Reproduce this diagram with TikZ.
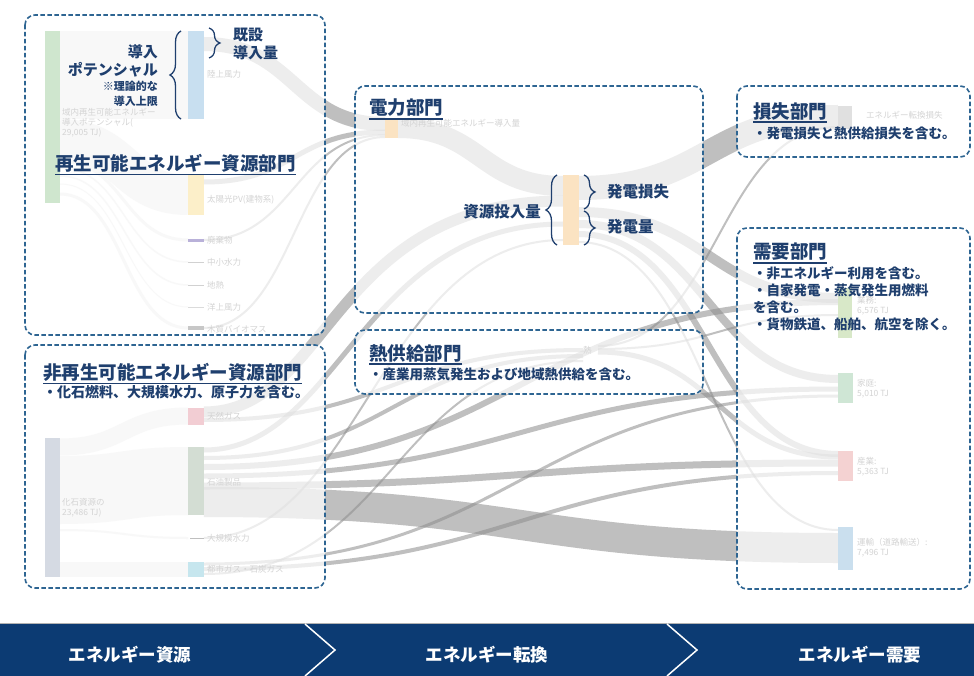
\documentclass[tikz,border=0pt]{standalone}
\usepackage{fontspec}
\setmainfont{Noto Sans CJK JP}
\usetikzlibrary{decorations.pathreplacing}
\definecolor{navy}{HTML}{1F3F6E}
\definecolor{dashc}{HTML}{2E6592}
\definecolor{bandc}{HTML}{0C3B73}
\definecolor{cBlue}{HTML}{C8DFF0}
\definecolor{cGreen}{HTML}{CFE6CE}
\definecolor{cYellow}{HTML}{FCEFC9}
\definecolor{cPurple}{HTML}{B9B1D9}
\definecolor{cPink}{HTML}{F2CDD3}
\definecolor{cGG}{HTML}{D3DDD3}
\definecolor{cFossil}{HTML}{D5DAE3}
\definecolor{cCyan}{HTML}{C6E6EE}
\definecolor{cOrange}{HTML}{FBE3C2}
\definecolor{cHome}{HTML}{CFE6D5}
\definecolor{cInd}{HTML}{F4D2D2}
\definecolor{cTrans}{HTML}{CADFEE}
\definecolor{cBiz}{HTML}{D8E8C8}
\newcommand\sflow[5]{\draw[flowline,line width=#5pt] (#1,#2) .. controls ({(#1+#3)/2},#2) and ({(#1+#3)/2},#4) .. (#3,#4);}
\newcommand\fflow[5]{\draw[faintflow,line width=#5pt] (#1,#2) .. controls ({(#1+#3)/2},#2) and ({(#1+#3)/2},#4) .. (#3,#4);}
\begin{document}
\begin{tikzpicture}[x=1pt,y=-1pt,
  flowline/.style={draw=black!45, draw opacity=0.55},
  faintflow/.style={draw=black!30, draw opacity=0.3},
  boxfill/.style={fill=white, fill opacity=0.72, rounded corners=10pt},
  dbox/.style={draw=dashc, line width=1.6pt, dash pattern=on 4.5pt off 2.5pt, rounded corners=10pt},
  title/.style={font=\fontsize{18.5}{20}\selectfont\bfseries, text=navy, anchor=west, inner sep=0pt},
  sub/.style={font=\fontsize{13.5}{15}\selectfont\bfseries, text=navy, anchor=west, inner sep=0pt},
  mid/.style={font=\fontsize{15}{17}\selectfont\bfseries, text=navy, inner sep=0pt},
  small/.style={font=\fontsize{11}{12}\selectfont\bfseries, text=navy, inner sep=0pt, anchor=east},
  flabel/.style={font=\fontsize{8.5}{10}\selectfont, text=black!17, anchor=west, inner sep=0pt},
  brc/.style={draw=navy, line width=1.3pt, decorate, decoration={brace, amplitude=11pt}},
  bandtext/.style={font=\fontsize{17.5}{19}\selectfont\bfseries, text=white, inner sep=0pt}
]
\useasboundingbox (0,0) rectangle (974,676);
\fill[white] (0,0) rectangle (974,676);

% ---------- faint flows col1 -> col2 ----------
\fflow{60}{75}{188}{75}{88}
\fflow{60}{139}{188}{195}{40}
\fflow{60}{161}{188}{240}{3}
\fflow{60}{168}{188}{262}{1.5}
\fflow{60}{176}{188}{285}{1.5}
\fflow{60}{184}{188}{307}{1}
\fflow{60}{194}{188}{328}{3}
\fflow{60}{447}{188}{416}{17}
\fflow{60}{490}{188}{481}{68}
\fflow{60}{530}{188}{538}{2}
\fflow{60}{569}{188}{569}{15}

% ---------- main flows ----------
\sflow{204}{44}{385}{124}{14}
\sflow{204}{182}{385}{132}{5}
\sflow{204}{240}{385}{135}{2}
\sflow{204}{328}{385}{137}{2}
\sflow{398}{128}{563}{186}{20}
\draw[flowline,line width=11pt] (204,412) .. controls (330,412) and (330,201) .. (563,201);
\sflow{204}{420}{583}{350}{4}
\draw[flowline,line width=5pt] (204,450) .. controls (340,450) and (360,224) .. (563,224);
\sflow{204}{458}{583}{356}{4}
\sflow{204}{467}{838}{302}{6}
\sflow{204}{476}{838}{389}{5}
\sflow{204}{486}{838}{463}{7}
\sflow{204}{502}{838}{548}{30}
\draw[flowline,line width=2pt] (204,538) .. controls (360,538) and (380,240) .. (563,240);
\sflow{204}{564}{838}{396}{3}
\sflow{204}{569}{838}{473}{4}
\sflow{204}{574}{583}{361}{2}
\sflow{598}{352}{838}{457}{5}
\sflow{598}{346}{838}{127}{2}
\sflow{598}{349}{838}{315}{2}
\sflow{578}{188}{838}{117}{24}
\sflow{578}{212}{838}{298}{10}
\sflow{578}{224}{838}{379}{8}
\sflow{578}{234}{838}{454}{6}
\sflow{578}{242}{838}{530}{2}

% ---------- white veils of the boxes ----------
\fill[boxfill] (25,15) rectangle (325,335);
\fill[boxfill] (25,345) rectangle (325,588);
\fill[boxfill] (355,86) rectangle (703,313);
\fill[boxfill] (355,330) rectangle (703,394);
\fill[boxfill] (737,86) rectangle (970,157);
\fill[boxfill] (737,228) rectangle (970,589);

% ---------- bars ----------
\fill[cGreen] (45,31) rectangle (60,203);
\fill[cBlue] (188,31) rectangle (204,119);
\fill[cYellow] (188,175) rectangle (204,215);
\fill[cPurple] (188,239) rectangle (204,242);
\draw[black!18, line width=0.8pt] (188,262) -- (204,262);
\draw[black!18, line width=0.8pt] (188,285) -- (204,285);
\draw[black!14, line width=0.6pt] (188,307) -- (204,307);
\fill[black!22] (188,326) rectangle (204,330);
\fill[cFossil] (45,438) rectangle (60,577);
\fill[cPink] (188,408) rectangle (204,425);
\fill[cGG] (188,447) rectangle (204,515);
\draw[black!25, line width=1pt] (190,538) -- (204,538);
\fill[cCyan] (188,562) rectangle (204,577);
\fill[cOrange] (385,118) rectangle (398,138);
\fill[cOrange] (563,175) rectangle (579,245);
\fill[black!12] (838,106) rectangle (852,129);
\fill[cBiz] (838,288) rectangle (852,338);
\fill[cHome] (838,373) rectangle (853,403);
\fill[cInd] (838,451) rectangle (853,481);
\fill[cTrans] (838,527) rectangle (853,570);

% ---------- faint labels ----------
\node[flabel] (l1) at (207,74) {陸上風力};
\node[flabel] (l2) at (207,200) {太陽光PV(建物系)};
\node[flabel] (l3) at (207,240) {廃棄物};
\node[flabel] (l4) at (207,262) {中小水力};
\node[flabel] (l5) at (207,285) {地熱};
\node[flabel] (l6) at (207,307) {洋上風力};
\node[flabel] (l7) at (207,329) {木質バイオマス};
\node[flabel, align=left] (l8) at (62,123) {域内再生可能エネルギー\\導入ポテンシャル(\\29,005 TJ)};
\node[flabel] (l9) at (207,416) {天然ガス};
\node[flabel] (l10) at (207,482) {石油製品};
\node[flabel] (l11) at (207,538) {大規模水力};
\node[flabel] (l12) at (207,569) {都市ガス・石炭ガス};
\node[flabel, align=left] (l13) at (62,508) {化石資源の\\23,486 TJ)};
\node[flabel] (l14) at (401,123) {域内再生可能エネルギー導入量};
\node[flabel] (l15) at (583,350) {熱};
\node[flabel] (l16) at (866,115) {エネルギー転換損失};
\node[flabel, align=left] (l17) at (857,306) {業務:\\6,576 TJ};
\node[flabel, align=left] (l18) at (857,389) {家庭:\\5,010 TJ};
\node[flabel, align=left] (l19) at (857,467) {産業:\\5,363 TJ};
\node[flabel, align=left] (l20) at (857,548) {運輸（道路輸送）:\\7,496 TJ};

% ---------- dashed borders ----------
\draw[dbox] (25,15) rectangle (325,335);
\draw[dbox] (25,345) rectangle (325,588);
\draw[dbox] (355,86) rectangle (703,313);
\draw[dbox] (355,330) rectangle (703,394);
\draw[dbox] (737,86) rectangle (970,157);
\draw[dbox] (737,228) rectangle (970,589);

% ---------- renewable box texts ----------
\node[title] (tRen) at (55,163) {再生可能エネルギー資源部門};
\draw[navy, line width=1.2pt] ([yshift=-2pt]tRen.south west) -- ([yshift=-2pt]tRen.south east);
\node[mid, anchor=east] (dn1) at (158,52) {導入};
\node[mid, anchor=east] (dn2) at (158,70) {ポテンシャル};
\node[small] (dn3) at (158,86) {※理論的な};
\node[small] (dn4) at (158,101) {導入上限};
\draw[brc] (181,119) -- (181,31);
\draw[brc] (209,28) -- (209,58);
\node[mid, anchor=west] (ks1) at (233,35) {既設};
\node[mid, anchor=west] (ks2) at (233,53) {導入量};

% ---------- non-renewable ----------
\node[title] (tNon) at (43,372) {非再生可能エネルギー資源部門};
\draw[navy, line width=1.2pt] ([yshift=-2pt]tNon.south west) -- ([yshift=-2pt]tNon.south east);
\node[sub, font=\fontsize{14}{15}\selectfont\bfseries] (sNon) at (43,392) {・化石燃料、大規模水力、原子力を含む。};

% ---------- power ----------
\node[title] (tPow) at (369,108) {電力部門};
\draw[navy, line width=1.2pt] ([yshift=-2pt]tPow.south west) -- ([yshift=-2pt]tPow.south east);
\draw[brc] (557,245) -- (557,175);
\draw[brc] (584,175) -- (584,209);
\draw[brc] (584,211) -- (584,245);
\node[mid, anchor=east, font=\fontsize{15.5}{17}\selectfont\bfseries] (pin) at (541,212) {資源投入量};
\node[mid, anchor=west, font=\fontsize{15.5}{17}\selectfont\bfseries] (pl) at (607,192) {発電損失};
\node[mid, anchor=west, font=\fontsize{15.5}{17}\selectfont\bfseries] (pg) at (607,227) {発電量};

% ---------- heat ----------
\node[title] (tHeat) at (369,353) {熱供給部門};
\draw[navy, line width=1.2pt] ([yshift=-2pt]tHeat.south west) -- ([yshift=-2pt]tHeat.south east);
\node[sub] (sHeat) at (369,374) {・産業用蒸気発生および地域熱供給を含む。};

% ---------- loss ----------
\node[title] (tLoss) at (753,111) {損失部門};
\draw[navy, line width=1.2pt] ([yshift=-2pt]tLoss.south west) -- ([yshift=-2pt]tLoss.south east);
\node[sub] (sLoss) at (753,133) {・発電損失と熱供給損失を含む。};

% ---------- demand ----------
\node[title] (tDem) at (753,252) {需要部門};
\draw[navy, line width=1.2pt] ([yshift=-2pt]tDem.south west) -- ([yshift=-2pt]tDem.south east);
\node[sub] (sD1) at (753,273) {・非エネルギー利用を含む。};
\node[sub] (sD2) at (753,290) {・自家発電・蒸気発生用燃料};
\node[sub] (sD3) at (753,307) {を含む。};
\node[sub] (sD4) at (753,324) {・貨物鉄道、船舶、航空を除く。};

% ---------- bottom band ----------
\draw[black!30, line width=0.8pt] (0,623) -- (974,623);
\fill[bandc] (0,624) rectangle (974,676);
\draw[white, line width=1.5pt] (305,624) -- (335,650) -- (305,676);
\draw[white, line width=1.5pt] (667,624) -- (697,650) -- (667,676);
\node[bandtext] (b1) at (130,655) {エネルギー資源};
\node[bandtext] (b2) at (487,655) {エネルギー転換};
\node[bandtext] (b3) at (860,655) {エネルギー需要};
\end{tikzpicture}
\end{document}
